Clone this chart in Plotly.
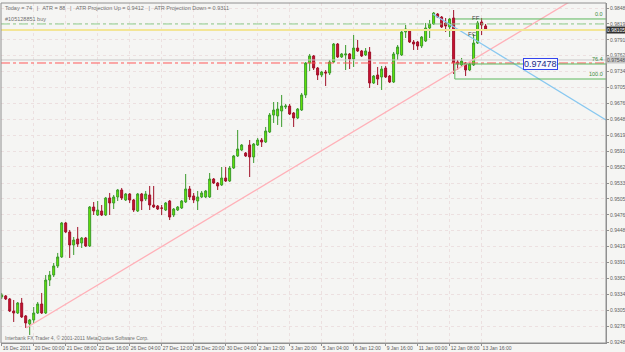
import plotly.graph_objects as go

# ---- data: 4H candles (bar index order) ----
opens = [0.93289,0.93307,0.93253,0.93037,0.93001,0.93181,0.92948,0.92804,0.92876,0.93001,
         0.93163,0.93001,0.93594,0.93684,0.93846,0.94008,0.94619,0.94457,0.94223,0.94331,
         0.94259,0.94349,0.94205,0.94906,0.94762,0.94834,0.94762,0.95068,0.94978,0.95086,
         0.95212,0.95032,0.95140,0.95032,0.94834,0.95140,0.95050,0.95122,0.94942,0.94924,
         0.94888,0.94852,0.95014,0.94762,0.94852,0.94888,0.94996,0.95230,0.95104,0.95014,
         0.95086,0.95086,0.95086,0.95409,0.95337,0.95302,0.95427,0.95373,0.95607,0.95823,
         0.95930,0.95876,0.96020,0.95805,0.96020,0.96110,0.96074,0.96254,0.96559,0.96542,
         0.96631,0.96703,0.96721,0.96595,0.96506,0.96649,0.96919,0.97494,0.97620,0.97404,
         0.97278,0.97332,0.97314,0.97512,0.97835,0.97602,0.97638,0.97656,0.97566,0.97763,
         0.97710,0.97638,0.97692,0.97134,0.97278,0.97242,0.97404,0.97260,0.97152,0.97656,
         0.97638,0.98051,0.98087,0.97871,0.97871,0.97799,0.97889,0.98123,0.98195,0.98374,
         0.98320,0.98213,0.98141,0.98302,0.97512,0.97458,0.97494,0.97368,0.97458,0.97853,
         0.98231,0.98159]
highs = [0.93361,0.93325,0.93271,0.93235,0.93199,0.93271,0.92965,0.92894,0.93109,0.93199,
         0.93361,0.93684,0.93756,0.93900,0.94080,0.94637,0.94637,0.94493,0.94367,0.94547,
         0.94367,0.94367,0.94924,0.94996,0.95014,0.94942,0.95086,0.95158,0.95122,0.95230,
         0.95248,0.95158,0.95158,0.95050,0.95158,0.95158,0.95194,0.95284,0.95284,0.94942,
         0.94942,0.94996,0.95032,0.94888,0.94924,0.95032,0.95499,0.95284,0.95158,0.95194,
         0.95194,0.95212,0.95517,0.95427,0.95355,0.95625,0.95625,0.95643,0.95841,0.96290,
         0.96038,0.95894,0.96110,0.96056,0.96146,0.96146,0.96344,0.96595,0.96793,0.96793,
         0.96919,0.96757,0.96757,0.96613,0.96685,0.96955,0.97512,0.97656,0.97638,0.97422,
         0.97350,0.97368,0.97548,0.97853,0.97853,0.97674,0.97817,0.97674,0.97997,0.97907,
         0.97728,0.97763,0.97781,0.97278,0.97422,0.97440,0.97440,0.97278,0.97692,0.97817,
         0.98069,0.98177,0.98105,0.97907,0.97889,0.97979,0.98213,0.98267,0.98410,0.98392,
         0.98338,0.98302,0.98302,0.98446,0.97548,0.97584,0.97512,0.97494,0.98015,0.98249,
         0.98302,0.98195]
lows =  [0.93253,0.93235,0.93019,0.92840,0.92983,0.92912,0.92732,0.92606,0.92822,0.92983,
         0.92983,0.92983,0.93486,0.93648,0.93810,0.93990,0.94439,0.93990,0.94044,0.94187,
         0.94169,0.94187,0.94187,0.94762,0.94744,0.94744,0.94744,0.94762,0.94870,0.95014,
         0.95032,0.95014,0.94978,0.94816,0.94816,0.94852,0.95014,0.94852,0.94888,0.94852,
         0.94762,0.94834,0.94672,0.94726,0.94834,0.94870,0.94978,0.95032,0.94978,0.94852,
         0.95068,0.95068,0.95068,0.95319,0.95212,0.95284,0.95355,0.95355,0.95589,0.95805,
         0.95912,0.95805,0.95445,0.95697,0.96002,0.95984,0.96056,0.96236,0.96416,0.96380,
         0.96344,0.96667,0.96559,0.96344,0.96488,0.96631,0.96865,0.97350,0.97368,0.97188,
         0.97242,0.97080,0.97278,0.97494,0.97584,0.97584,0.97368,0.97386,0.97422,0.97692,
         0.97602,0.97620,0.97045,0.97116,0.97098,0.97009,0.97224,0.97134,0.97134,0.97548,
         0.97620,0.97943,0.97853,0.97728,0.97728,0.97763,0.97871,0.97943,0.98177,0.98302,
         0.98123,0.98051,0.97961,0.97296,0.97368,0.97422,0.97260,0.97350,0.97440,0.97835,
         0.97997,0.98069]
closes = [0.93325,0.93253,0.93037,0.93001,0.93181,0.92930,0.92822,0.92876,0.93001,0.93163,
          0.93001,0.93594,0.93684,0.93846,0.94008,0.94619,0.94457,0.94223,0.94313,0.94241,
          0.94349,0.94205,0.94906,0.94834,0.94852,0.94762,0.95068,0.94978,0.95086,0.95212,
          0.95068,0.95140,0.95032,0.94852,0.95140,0.95014,0.95140,0.94942,0.94906,0.94870,
          0.94885,0.94978,0.94726,0.94870,0.94906,0.95014,0.95230,0.95086,0.95032,0.95086,
          0.95158,0.95194,0.95409,0.95337,0.95284,0.95427,0.95373,0.95607,0.95823,0.95948,
          0.96020,0.95823,0.95805,0.96038,0.96110,0.96074,0.96272,0.96559,0.96649,0.96667,
          0.96721,0.96721,0.96577,0.96506,0.96667,0.96919,0.97494,0.97620,0.97404,0.97278,
          0.97332,0.97314,0.97512,0.97835,0.97602,0.97656,0.97656,0.97566,0.97763,0.97710,
          0.97620,0.97710,0.97134,0.97260,0.97206,0.97386,0.97242,0.97152,0.97656,0.97781,
          0.98051,0.98105,0.97871,0.97835,0.97799,0.97961,0.98123,0.98195,0.98392,0.98320,
          0.98141,0.98159,0.98285,0.97494,0.97476,0.97530,0.97368,0.97476,0.97853,0.98213,
          0.98177,0.98087]
bars = list(range(len(opens)))

x_tick_bars = [0, 8, 16, 24, 32, 40, 48, 56, 64, 72, 80, 88, 96, 104, 112, 120]
x_tick_labels = ["16 Dec 2011", "20 Dec 00:00", "21 Dec 08:00", "22 Dec 16:00", "26 Dec 04:00",
                 "27 Dec 12:00", "28 Dec 20:00", "30 Dec 04:00", "2 Jan 12:00", "3 Jan 20:00",
                 "5 Jan 04:00", "6 Jan 12:00", "9 Jan 16:00", "11 Jan 00:00", "12 Jan 08:00",
                 "13 Jan 16:00"]
y_tick_labels = ["0.92480", "0.92765", "0.93055", "0.93340", "0.93625", "0.93910", "0.94195",
                 "0.94480", "0.94765", "0.95050", "0.95335", "0.95625", "0.95910", "0.96195",
                 "0.96480", "0.96765", "0.97050", "0.97340", "0.97625", "0.97910", "0.98195",
                 "0.98480"]
y_tick_vals = [float(v) for v in y_tick_labels]

# drawing objects (bar index, price)
uptrend = [(6.1, 0.92732), (99.0, 0.96739)]
downtrend = [(107.8, 0.98374), (151.1, 0.96470)]
buy_order = 0.98195
yellow_level = 0.98087
ask_level = 0.97548
stop_level = 0.97494
fib_start = 113.3
fib_levels = {"0.0": 0.98285, "76.4": 0.97476, "100.0": 0.97206}
bid_price = "0.98105"
ask_price = "0.97548"
fib_label_price = "0.97478"

X0, X1 = -0.175, 151.1
Y0, Y1 = 0.92462, 0.98572
FONT = "Liberation Sans"

fig = go.Figure()

(ax, ay), (bx, by) = uptrend
slope = (by - ay) / (bx - ax)
fig.add_trace(go.Scatter(x=[ax, X1], y=[ay, ay + slope * (X1 - ax)], mode="lines",
                         line=dict(color="#ffb0b8", width=1.3), hoverinfo="skip"))
fig.add_trace(go.Scatter(x=[p[0] for p in downtrend], y=[p[1] for p in downtrend], mode="lines",
                         line=dict(color="#88c8f0", width=1.3), hoverinfo="skip"))

fig.add_trace(go.Candlestick(
    x=bars, open=opens, high=highs, low=lows, close=closes,
    increasing=dict(line=dict(color="#3a9a2a", width=1), fillcolor="#66ee00"),
    decreasing=dict(line=dict(color="#a01028", width=1), fillcolor="#cc1133"),
    whiskerwidth=0, hoverinfo="skip"))

shapes = []
def hline(y, color, width=1, dash="solid", x0=X0):
    shapes.append(dict(type="line", xref="x", yref="y", x0=x0, x1=X1, y0=y, y1=y,
                       line=dict(color=color, width=width, dash=dash), layer="above"))

hline(yellow_level, "#f3e596", 2)
hline(buy_order, "#8ccf8c", 1, "dashdot")
hline(ask_level, "#c8c8c8", 1)
hline(stop_level, "#ff5a5a", 1, "dashdot")
for name, lv in fib_levels.items():
    hline(lv, "#5cb85c", 1, x0=fib_start)
shapes.append(dict(type="line", xref="x", yref="y", x0=fib_start, x1=fib_start,
                   y0=fib_levels["76.4"], y1=fib_levels["100.0"],
                   line=dict(color="#5cb85c", width=1)))
shapes.append(dict(type="rect", xref="paper", yref="paper", x0=0, x1=1, y0=0, y1=1,
                   line=dict(color="#909090", width=1)))

ann = []
small = dict(family=FONT, size=5.5, color="#707070")
ann.append(dict(xref="paper", yref="paper", x=0.004, y=1.0, xanchor="left", yanchor="top",
                text="Today = 74   |   ATR = 88   |   ATR Projection Up = 0.9412   |   ATR Projection Down = 0.9311",
                showarrow=False, font=small))
ann.append(dict(xref="paper", yref="y", x=0.004, y=buy_order, xanchor="left", yanchor="bottom",
                text="#105128851 buy", showarrow=False, font=small))
ann.append(dict(xref="paper", yref="paper", x=0.004, y=0.0, xanchor="left", yanchor="bottom",
                text="Interbank FX Trader 4, © 2001-2011 MetaQuotes Software Corp.",
                showarrow=False, font=dict(family=FONT, size=5, color="#707070")))
for name, lv in fib_levels.items():
    ann.append(dict(xref="paper", yref="y", x=0.998, y=lv, xanchor="right", yanchor="bottom",
                    text=name, showarrow=False, font=dict(family=FONT, size=5.5, color="#3a8a3a")))
ann.append(dict(xref="x", yref="y", x=118.6, y=0.98302, text="FF", showarrow=False,
                font=dict(family=FONT, size=6, color="#404040")))
ann.append(dict(xref="x", yref="y", x=117.6, y=0.98015, text="FC", showarrow=False,
                font=dict(family=FONT, size=6, color="#404040")))
ann.append(dict(xref="x", yref="y", x=134.8, y=fib_levels["76.4"], text=fib_label_price,
                showarrow=False, bgcolor="#f8f8ff", bordercolor="#3344ee", borderwidth=1, borderpad=0,
                font=dict(family=FONT, size=9, color="#1a2a88")))
ann.append(dict(xref="paper", yref="y", x=1.0, y=yellow_level, xanchor="left", text=bid_price,
                showarrow=False, bgcolor="#303030", borderpad=0,
                font=dict(family=FONT, size=5, color="#ffffff")))
ann.append(dict(xref="paper", yref="y", x=1.0, y=ask_level, xanchor="left", text=ask_price,
                showarrow=False, bgcolor="#c8c8c8", borderpad=0,
                font=dict(family=FONT, size=5, color="#505050")))

fig.update_layout(
    width=625, height=352, margin=dict(l=1, r=19, t=3, b=9),
    paper_bgcolor="#f5f5f3", plot_bgcolor="#f5f5f3", showlegend=False,
    shapes=shapes, annotations=ann,
    xaxis=dict(range=[X0, X1], rangeslider=dict(visible=False), tickmode="array",
               tickvals=x_tick_bars, ticktext=x_tick_labels, ticks="outside", ticklen=2,
               tickcolor="#909090", ticklabelposition="outside right", tickangle=0,
               ticklabelstandoff=0,
               tickfont=dict(family=FONT, size=5, color="#606060"),
               showgrid=True, gridcolor="#ece0e0", griddash="dot", gridwidth=1,
               zeroline=False, showline=True, linecolor="#909090", automargin=False),
    yaxis=dict(range=[Y0, Y1], side="right", tickmode="array", tickvals=y_tick_vals,
               ticktext=y_tick_labels, ticks="outside", ticklen=2, tickcolor="#909090",
               ticklabelstandoff=0,
               tickfont=dict(family=FONT, size=5, color="#606060"),
               showgrid=True, gridcolor="#ece0e0", griddash="dot", gridwidth=1,
               zeroline=False, showline=True, linecolor="#909090", automargin=False),
)

fig.write_html("out.html")
